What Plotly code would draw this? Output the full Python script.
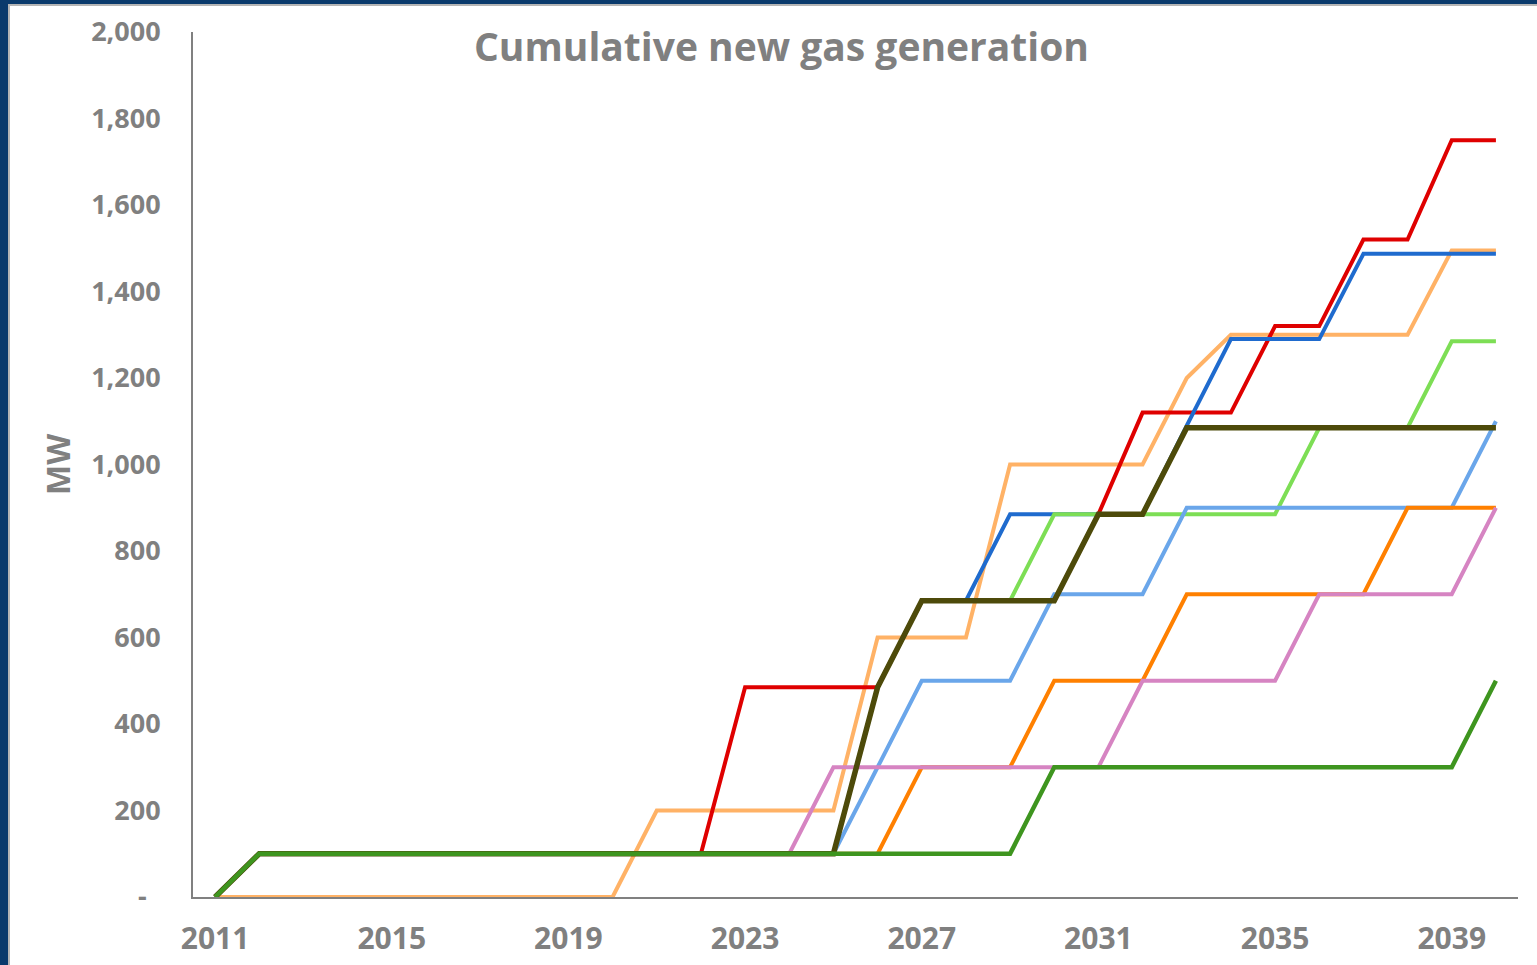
import plotly.graph_objects as go

# ---------------- data ----------------
years = list(range(2011, 2041))

red = [0, 100, 100, 100, 100, 100, 100, 100, 100, 100, 100, 100, 485, 485, 485, 485,
       685, 685, 685, 685, 885, 1120, 1120, 1120, 1320, 1320, 1520, 1520, 1750, 1750]
dark_blue = [0, 100, 100, 100, 100, 100, 100, 100, 100, 100, 100, 100, 100, 100, 100, 485,
             685, 685, 885, 885, 885, 885, 1090, 1290, 1290, 1290, 1487, 1487, 1487, 1487]
light_orange = [0, 0, 0, 0, 0, 0, 0, 0, 0, 0, 200, 200, 200, 200, 200, 600,
                600, 600, 1000, 1000, 1000, 1000, 1200, 1300, 1300, 1300, 1300, 1300, 1495, 1495]
light_green = [0, 100, 100, 100, 100, 100, 100, 100, 100, 100, 100, 100, 100, 100, 100, 485,
               685, 685, 685, 885, 885, 885, 885, 885, 885, 1085, 1085, 1085, 1285, 1285]
light_blue = [0, 100, 100, 100, 100, 100, 100, 100, 100, 100, 100, 100, 100, 100, 100, 300,
              500, 500, 500, 700, 700, 700, 900, 900, 900, 900, 900, 900, 900, 1100]
orange = [0, 100, 100, 100, 100, 100, 100, 100, 100, 100, 100, 100, 100, 100, 100, 100,
          300, 300, 300, 500, 500, 500, 700, 700, 700, 700, 700, 900, 900, 900]
pink = [0, 100, 100, 100, 100, 100, 100, 100, 100, 100, 100, 100, 100, 100, 300, 300,
        300, 300, 300, 300, 300, 500, 500, 500, 500, 700, 700, 700, 700, 900]
olive = [0, 100, 100, 100, 100, 100, 100, 100, 100, 100, 100, 100, 100, 100, 100, 485,
         685, 685, 685, 685, 885, 885, 1085, 1085, 1085, 1085, 1085, 1085, 1085, 1085]
dark_green = [0, 100, 100, 100, 100, 100, 100, 100, 100, 100, 100, 100, 100, 100, 100, 100,
              100, 100, 100, 300, 300, 300, 300, 300, 300, 300, 300, 300, 300, 500]

x_tick_vals = [2011, 2015, 2019, 2023, 2027, 2031, 2035, 2039]
y_tick_vals = [0, 200, 400, 600, 800, 1000, 1200, 1400, 1600, 1800, 2000]
y_tick_text = ["-\u00a0\u00a0", "200", "400", "600", "800", "1,000", "1,200", "1,400",
               "1,600", "1,800", "2,000"]

title_text = "Cumulative new gas generation"
y_title = "MW"

# ---------------- styling ----------------
series = [
    (light_orange, "#FFB266", 4),
    (red, "#DF0000", 4),
    (dark_blue, "#1F6BCE", 4),
    (light_green, "#7DDE55", 4),
    (light_blue, "#6AA6EA", 4),
    (orange, "#FF8000", 4),
    (pink, "#D684C2", 4),
    (olive, "#4D4A0A", 5.5),
    (dark_green, "#3E951F", 4.5),
]

W, H = 1537, 965
ML, MR, MT, MB = 193, 19, 32, 68
PW, PH = W - ML - MR, H - MT - MB


def px_x(p):
    return (p - ML) / PW


def px_y(p):
    return (H - MB - p) / PH


GRAY = "#808080"
FONT = "Open Sans"

fig = go.Figure()
for vals, col, w in series:
    fig.add_trace(go.Scatter(x=years, y=vals, mode="lines",
                             line=dict(color=col, width=w),
                             showlegend=False, hoverinfo="x+y"))

fig.update_layout(
    width=W, height=H,
    margin=dict(l=ML, r=MR, t=MT, b=MB, pad=0, autoexpand=False),
    paper_bgcolor="white", plot_bgcolor="white",
    showlegend=False,
    xaxis=dict(range=[2010.5, 2040.5], tickvals=x_tick_vals,
               showgrid=False, zeroline=False, showline=True, automargin=False,
               linecolor=GRAY, linewidth=2, ticks="",
               ticklabelstandoff=14,
               tickfont=dict(family=FONT, size=30, color=GRAY, weight="bold")),
    yaxis=dict(range=[0, 2000], tickvals=y_tick_vals, ticktext=y_tick_text,
               showgrid=False, zeroline=False, showline=True, automargin=False,
               linecolor=GRAY, linewidth=2, ticks="",
               ticklabelstandoff=25,
               tickfont=dict(family=FONT, size=27, color=GRAY, weight="bold")),
)

fig.add_annotation(text=title_text, xref="paper", yref="paper",
                   x=px_x(781), y=px_y(45), xanchor="center", yanchor="middle",
                   showarrow=False,
                   font=dict(family=FONT, size=39, color=GRAY, weight="bold"))

fig.add_annotation(text=y_title, xref="paper", yref="paper",
                   x=px_x(57), y=px_y(465), xanchor="center", yanchor="middle",
                   textangle=-90, showarrow=False,
                   font=dict(family=FONT, size=32, color=GRAY, weight="bold"))

NAVY = "#0A3A6C"
frame = [
    (0, 0, 8, H, NAVY),
    (0, 0, W, 4, NAVY),
    (8, 4, 10, H, "#B5B5B5"),
    (8, 4, W, 6, "#B5B5B5"),
]
for x0, y0, x1, y1, c in frame:
    fig.add_shape(type="rect", xref="paper", yref="paper",
                  x0=px_x(x0), x1=px_x(x1), y0=px_y(y0), y1=px_y(y1),
                  fillcolor=c, line=dict(width=0), layer="above")

fig.write_html("out.html", config={"displayModeBar": False},
               post_script="document.body.style.margin='0';document.body.style.overflow='hidden';")
